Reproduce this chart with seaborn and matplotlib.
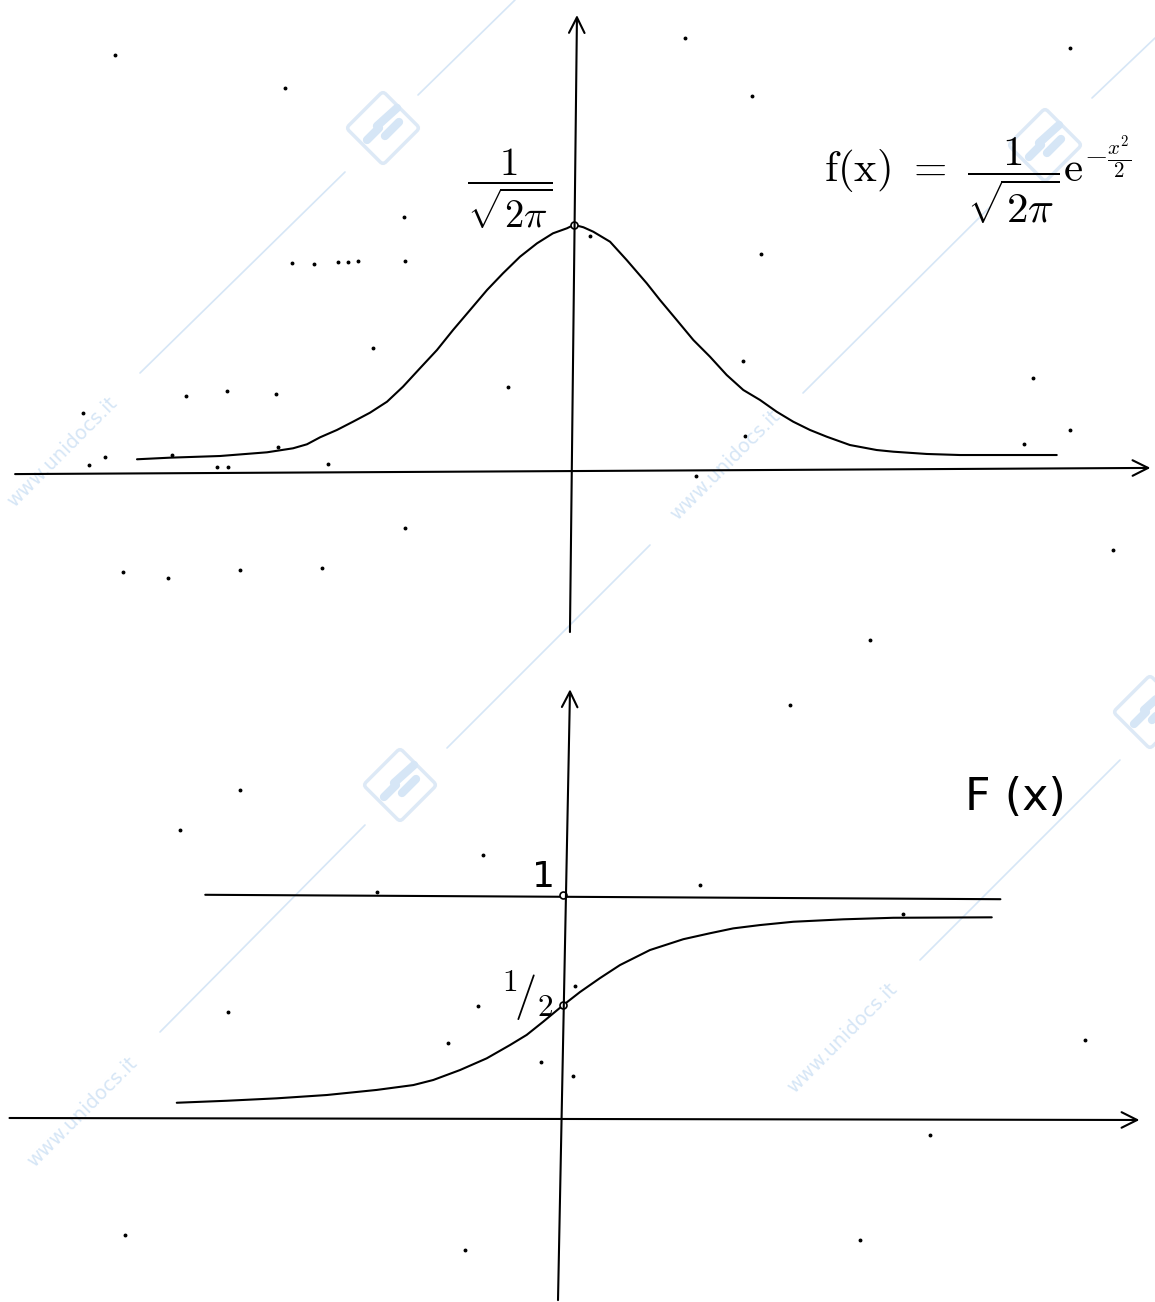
import matplotlib
matplotlib.use('Agg')
import matplotlib.pyplot as plt
from matplotlib.patches import FancyBboxPatch
import matplotlib.transforms as mtransforms
import seaborn as sns
import numpy as np

sns.set_theme(style='white')
plt.rcParams['font.family'] = ['DejaVu Sans']
plt.rcParams['mathtext.fontset'] = 'cm'
plt.rcParams['text.color'] = 'black'

# density f(x), points (x in sigma units)
pdf_x = [-3.237, -2.993, -2.622, -2.274, -2.081, -1.978, -1.881, -1.756, -1.637,
         -1.511, -1.385, -1.267, -1.141, -1.015, -0.896, -0.770, -0.644, -0.526,
         -0.400, -0.274, -0.156, -0.052, 0.0, 0.07, 0.143, 0.267, 0.390, 0.539,
         0.637, 0.761, 0.884, 1.007, 1.131, 1.254, 1.378, 1.501, 1.624, 1.748,
         1.872, 2.044, 2.242, 2.365, 2.613, 2.859, 3.576]
pdf_y = [0.019, 0.0216, 0.0243, 0.0303, 0.0368, 0.0433, 0.0546, 0.0665, 0.0799,
         0.0945, 0.1123, 0.1366, 0.1665, 0.1961, 0.2285, 0.2609, 0.2934, 0.3204,
         0.3473, 0.3690, 0.3852, 0.3934, 0.399, 0.395, 0.3878, 0.3716, 0.3420,
         0.3042, 0.2771, 0.2447, 0.2123, 0.1853, 0.1556, 0.1313, 0.1151, 0.0961,
         0.0799, 0.0665, 0.0556, 0.0421, 0.0340, 0.0313, 0.0276, 0.0259, 0.0259]

# distribution function F(x)
cdf_x = [-2.861, -2.491, -2.121, -1.750, -1.380, -1.109, -0.961, -0.763, -0.565,
         -0.393, -0.269, -0.146, 0.0, 0.126, 0.274, 0.422, 0.644, 0.891, 1.089,
         1.261, 1.459, 1.706, 2.076, 2.447, 3.176]
cdf_y = [0.069, 0.078, 0.089, 0.104, 0.127, 0.149, 0.172, 0.217, 0.270, 0.330,
         0.376, 0.436, 0.51, 0.570, 0.633, 0.692, 0.760, 0.809, 0.836, 0.858,
         0.873, 0.888, 0.899, 0.906, 0.908]

# the F = 1 line
one_x = [-2.65, 3.24]
one_y = [1.01, 0.99]

# hand drawn axes: (start, end), arrow at the end
top_xaxis = [(-4.14, -0.005), (4.27, 0.005)]
top_yaxis = [(-0.03, -0.261), (0.022, 0.739)]
bot_xaxis = [(-4.10, 0.0), (4.27, -0.009)]
bot_yaxis = [(-0.037, -0.824), (0.052, 1.94)]

# watermark and scan specks (pixel coords of the scan)
wm_lines = [((140, 373), (345, 172)), ((418, 95), (515, 0)),
            ((803, 393), (990, 207)), ((1092, 98), (1155, 38)),
            ((447, 748), (650, 545)), ((160, 1032), (365, 825)),
            ((920, 960), (1120, 760))]
wm_logos = [(383, 128), (1045, 145), (400, 785), (1150, 712)]
wm_texts = [(62, 452), (725, 465), (82, 1112), (842, 1038)]
specks = [(115, 55), (285, 88), (685, 38), (752, 96), (1070, 48), (404, 217),
          (405, 261), (292, 263), (314, 264), (338, 262), (348, 262), (358, 261),
          (373, 348), (508, 387), (186, 396), (227, 391), (276, 394), (328, 464),
          (217, 467), (228, 467), (172, 455), (278, 447), (590, 236), (761, 254),
          (743, 361), (1033, 378), (745, 436), (1024, 444), (1070, 430), (696, 476),
          (83, 413), (105, 457), (89, 465), (123, 572), (168, 578), (240, 570),
          (322, 568), (405, 528), (1113, 550), (790, 705), (870, 640), (240, 790),
          (180, 830), (228, 1012), (478, 1006), (448, 1043), (541, 1062),
          (573, 1076), (575, 986), (377, 892), (700, 885), (903, 914), (483, 855),
          (1085, 1040), (125, 1235), (465, 1250), (860, 1240), (930, 1135)]

W, H = 1155, 1302
sx = 135
top_o, top_sy = (574, 471), 617
bot_o, bot_sy = (563, 1118), 221

fig = plt.figure(figsize=(W / 100, H / 100), dpi=100)

# watermark layer
wm = fig.add_axes([0, 0, 1, 1], zorder=0)
wm.set_xlim(0, W)
wm.set_ylim(H, 0)
wm.axis('off')
wm_col = '#d6e6f6'
for (x0, y0), (x1, y1) in wm_lines:
    wm.plot([x0, x1], [y0, y1], color=wm_col, lw=1.2)
for cx, cy in wm_logos:
    tr = mtransforms.Affine2D().rotate_deg_around(cx, cy, 45) + wm.transData
    box = FancyBboxPatch((cx - 22, cy - 22), 44, 44, boxstyle='round,pad=4',
                         fc='none', ec='#dde9f6', lw=2.5, transform=tr)
    wm.add_patch(box)
    for (a, b), (c, d) in [((-16, 12), (-4, 0)), ((-6, -2), (14, -20)),
                           ((2, 8), (16, -6))]:
        wm.plot([cx + a, cx + c], [cy + b, cy + d], color='#d6e6f6', lw=6,
                solid_capstyle='round')
for tx, ty in wm_texts:
    wm.text(tx, ty, 'www.unidocs.it', color=wm_col, fontsize=14,
            rotation=45, ha='center', va='center')
wm.plot([p[0] for p in specks], [p[1] for p in specks], ls='none',
        marker='o', ms=1.8, color='black')

# top panel: density
ax1 = fig.add_axes([0, 0.5, 1, 0.5], zorder=1)
ax1.set_xlim((0 - top_o[0]) / sx, (W - top_o[0]) / sx)
ax1.set_ylim((top_o[1] - H / 2) / top_sy, top_o[1] / top_sy)
ax1.patch.set_alpha(0)
ax1.axis('off')

sns.lineplot(x=pdf_x, y=pdf_y, sort=False, estimator=None, color='black',
             lw=1.5, ax=ax1)
for (p0, p1) in (top_xaxis, top_yaxis):
    ax1.annotate('', xy=p1, xytext=p0,
                 arrowprops=dict(arrowstyle='->', lw=1.5, color='black',
                                 mutation_scale=28, shrinkA=0, shrinkB=0))
ax1.plot([0], [0.399], marker='o', ms=5, mfc='white', mec='black', mew=1.2)
ax1.text(-0.474, 0.458, r'$\dfrac{1}{\sqrt{2\pi}}$', fontsize=28,
         ha='center', va='center')
ax1.text(2.99, 0.470,
         r'$\mathrm{f(x)}\ =\ \dfrac{1}{\sqrt{2\pi}}\mathrm{e}^{-\frac{x^2}{2}}$',
         fontsize=31, ha='center', va='center')

# bottom panel: distribution function
ax2 = fig.add_axes([0, 0, 1, 0.5], zorder=1)
ax2.set_xlim((0 - bot_o[0]) / sx, (W - bot_o[0]) / sx)
ax2.set_ylim((bot_o[1] - H) / bot_sy, (bot_o[1] - H / 2) / bot_sy)
ax2.patch.set_alpha(0)
ax2.axis('off')

sns.lineplot(x=cdf_x, y=cdf_y, sort=False, estimator=None, color='black',
             lw=1.5, ax=ax2)
sns.lineplot(x=one_x, y=one_y, sort=False, estimator=None, color='black',
             lw=1.5, ax=ax2)
for (p0, p1) in (bot_xaxis, bot_yaxis):
    ax2.annotate('', xy=p1, xytext=p0,
                 arrowprops=dict(arrowstyle='->', lw=1.5, color='black',
                                 mutation_scale=28, shrinkA=0, shrinkB=0))
ax2.plot([0, 0], [1.009, 0.51], ls='none', marker='o', ms=5, mfc='white',
         mec='black', mew=1.2)
ax2.text(-0.148, 1.09, '1', fontsize=26, ha='center', va='center')
ax2.text(-0.27, 0.548, r'$^{1}\!/_{2}$', fontsize=32, ha='center', va='center')
ax2.text(3.35, 1.45, 'F (x)', fontsize=32, ha='center', va='center')

fig.savefig('out.png', dpi=100)
